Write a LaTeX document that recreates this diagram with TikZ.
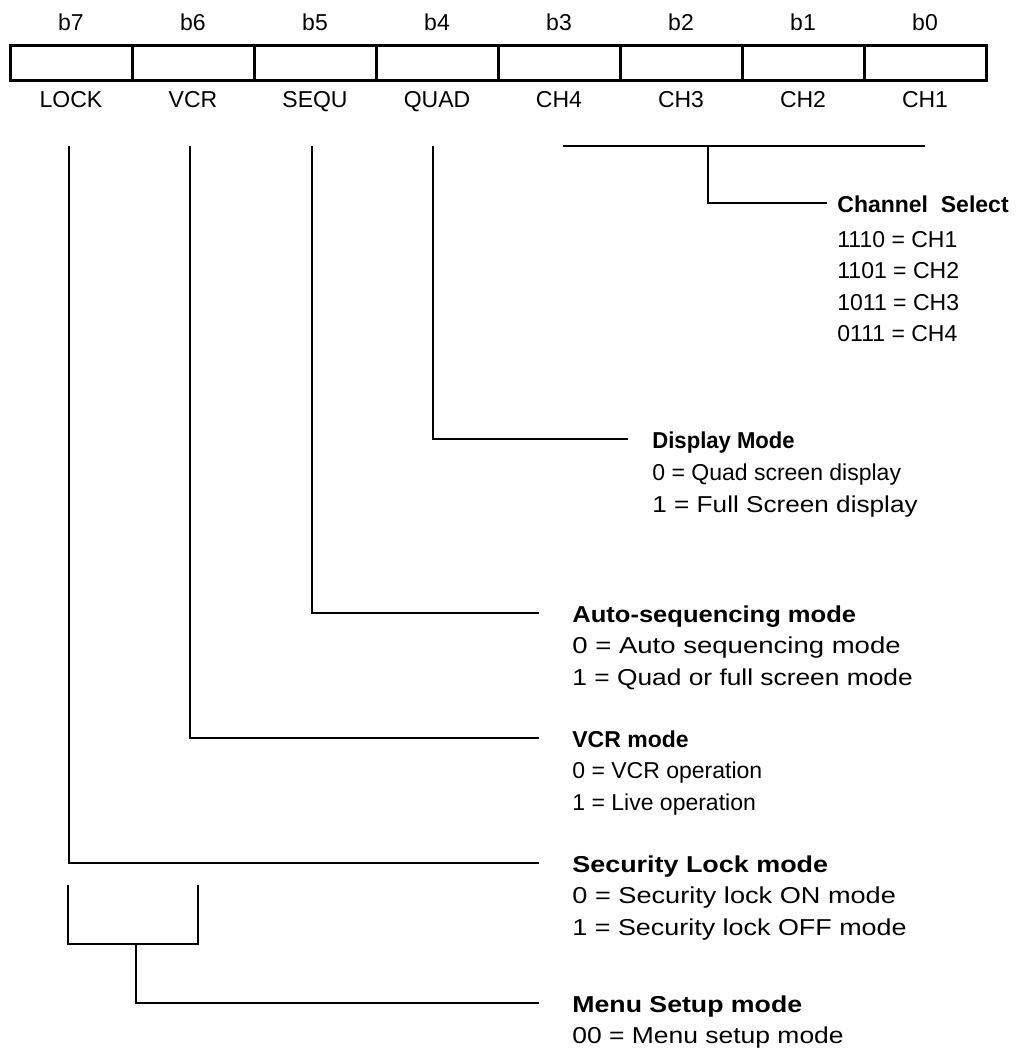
\documentclass[tikz,border=0pt]{standalone}
\usepackage{graphicx}
\usepackage{fontspec}
\setmainfont{Liberation Sans}
\usetikzlibrary{positioning}

\newcommand{\widen}[2]{\scalebox{#1}[1]{#2}}

\begin{document}
\fontsize{11.5pt}{15.75pt}\selectfont
\begin{tikzpicture}[x = 0.5pt, y = -0.5pt,
	cell/.style = {draw, line width = 1.5pt, minimum width = 61pt, minimum height = 17.5pt, inner sep = 0},
	tag/.style = {inner sep = 0},
	wire/.style = {line width = 1pt},
	head/.style = {anchor = base west, inner sep = 0, text height = 9pt, text depth = 0pt, font = \bfseries},
	entry/.style = {anchor = base west, inner sep = 0}]
	\useasboundingbox (0,0) rectangle (1017,1050);
	\foreach \b/\lbl [count = \i from 0] in {7/LOCK, 6/VCR, 5/SEQU, 4/QUAD, 3/CH4, 2/CH3, 1/CH2, 0/CH1} {
		\node[cell] (c\b) at (71+122*\i, 62.5) {};
		\node[tag, above = 6pt of c\b] (b\b) {b\b};
		\node[tag, below = 5pt of c\b] (n\b) {\lbl};
	}
	\coordinate (t7) at (69,146);
	\coordinate (t6) at (190,146);
	\coordinate (t5) at (312,146);
	\coordinate (t4) at (433,146);
	\coordinate (chL) at (563,146);
	\coordinate (chM) at (708,146);
	\coordinate (chR) at (925,146);
	\coordinate (m7) at (68,885);
	\coordinate (m6) at (198,885);
	\coordinate (mm) at (136,944);
	\node[head] (chanT) at (837,212) {Channel\ \ Select};
	\node[head] (dispT) at (652,448) {\widen{0.96}{Display Mode}};
	\node[head] (autoT) at (572,622) {\widen{1.11}{Auto-sequencing mode}};
	\node[head] (vcrT) at (572,747) {VCR mode};
	\node[head] (lockT) at (572,872) {\widen{1.17}{Security Lock mode}};
	\node[head] (menuT) at (572,1012) {\widen{1.16}{Menu Setup mode}};
	\foreach \t [count = \i] in {1110 = CH1, 1101 = CH2, 1011 = CH3, 0111 = CH4}
		\node[entry] (chan\i) at ([yshift = -1.75pt - \i*15.8pt]chanT.base west) {\t};
	\foreach \s/\t [count = \i] in {1/0 = Quad screen display, 1.137/1 = Full Screen display}
		\node[entry] (disp\i) at ([yshift = -\i*16pt]dispT.base west) {\widen{\s}{\t}};
	\foreach \s/\t [count = \i] in {1.197/0 = Auto sequencing mode, 1.145/1 = Quad or full screen mode}
		\node[entry] (auto\i) at ([yshift = -\i*15.75pt]autoT.base west) {\widen{\s}{\t}};
	\foreach \t [count = \i] in {0 = VCR operation, 1 = Live operation}
		\node[entry] (vcr\i) at ([yshift = -\i*15.75pt]vcrT.base west) {\t};
	\foreach \s/\t [count = \i] in {1.18/0 = Security lock ON mode, 1.17/1 = Security lock OFF mode}
		\node[entry] (lock\i) at ([yshift = -\i*15.75pt]lockT.base west) {\widen{\s}{\t}};
	\node[entry] (menu1) at ([yshift = -15.75pt]menuT.base west) {\widen{1.15}{00 = Menu setup mode}};
	\draw[wire] (chL) -- (chR);
	\draw[wire] (chM) |- ([xshift = -5pt]chanT.west);
	\draw[wire] (t4) |- ([xshift = -12pt]dispT.west);
	\draw[wire] (t5) |- ([xshift = -16.5pt]autoT.west);
	\draw[wire] (t6) |- ([xshift = -16.5pt]vcrT.west);
	\draw[wire] (t7) |- ([xshift = -16.5pt]lockT.west);
	\draw[wire] (m7) |- (mm) -| (m6);
	\draw[wire] (mm) |- ([xshift = -16.5pt]menuT.west);
\end{tikzpicture}
\end{document}
